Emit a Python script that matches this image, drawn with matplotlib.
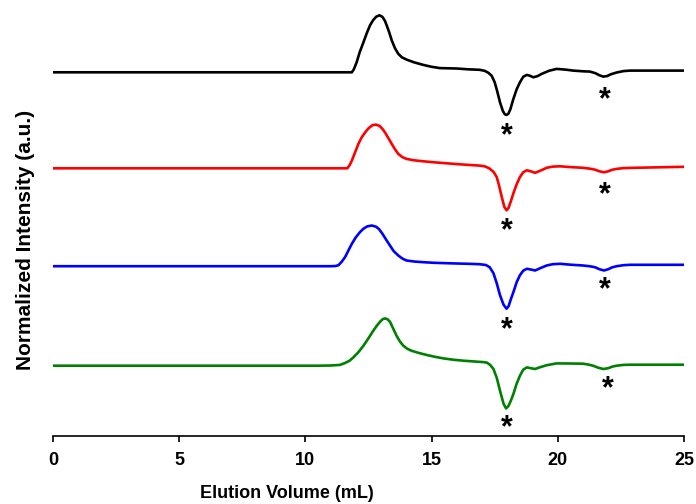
import matplotlib
matplotlib.use('Agg')
import matplotlib.pyplot as plt

# elution volume (mL) / detector response (a.u., relative to each trace baseline)
black_x = [0, 5, 10, 11.5, 11.84, 11.92, 12.03, 12.15, 12.3, 12.43, 12.56, 12.68, 12.8, 12.93, 13.05,
           13.15, 13.22, 13.32, 13.42, 13.55, 13.68, 13.82, 14.01, 14.3, 14.67, 15.0, 15.33, 15.99,
           16.44, 16.9, 17.1, 17.25, 17.38, 17.5, 17.6, 17.71, 17.82, 17.9, 17.97, 18.04, 18.12,
           18.24, 18.37, 18.5, 18.63, 18.77, 18.9, 19.03, 19.2, 19.36, 19.65, 19.95, 20.3, 20.61,
           21.0, 21.28, 21.5, 21.65, 21.8, 21.95, 22.1, 22.33, 22.6, 22.86, 24.0, 25.0]
black_y = [0, 0, 0, 0, 0.0, 0.3, 1.0, 2.0, 3.0, 3.9, 4.7, 5.2, 5.55, 5.7, 5.55,
           5.15, 4.7, 4.0, 3.2, 2.4, 1.85, 1.5, 1.27, 1.0, 0.74, 0.55, 0.42, 0.38,
           0.3, 0.25, 0.15, -0.05, -0.35, -1.0, -1.9, -3.0, -3.85, -4.2, -4.26, -4.15, -3.7,
           -2.66, -1.7, -1.0, -0.45, -0.26, -0.35, -0.5, -0.38, -0.16, 0.15, 0.34, 0.27, 0.17,
           0.1, 0.07, -0.1, -0.3, -0.43, -0.38, -0.2, -0.02, 0.12, 0.17, 0.17, 0.17]

red_x = [0, 5, 10, 11.5, 11.66, 11.75, 11.84, 11.97, 12.1, 12.23, 12.37, 12.5, 12.65, 12.79, 12.93,
         13.05, 13.15, 13.28, 13.42, 13.55, 13.68, 13.84, 14.01, 14.3, 14.67, 15.1, 15.6, 16.0,
         16.46, 16.9, 17.1, 17.28, 17.45, 17.58, 17.68, 17.78, 17.88, 17.97, 18.05, 18.14, 18.24,
         18.37, 18.5, 18.63, 18.77, 18.93, 19.1, 19.3, 19.56, 19.8, 20.09, 20.5, 21.0, 21.25,
         21.47, 21.65, 21.83, 22.0, 22.15, 22.33, 22.6, 22.86, 24.0, 25.0]
red_y = [0, 0, 0, 0, 0.0, 0.3, 0.77, 1.6, 2.44, 3.1, 3.6, 4.0, 4.3, 4.37, 4.25,
         3.95, 3.6, 3.05, 2.44, 1.9, 1.44, 1.12, 0.94, 0.8, 0.7, 0.6, 0.5, 0.42,
         0.34, 0.27, 0.2, 0.0, -0.35, -0.87, -1.8, -2.87, -3.85, -4.2, -3.95, -3.3, -2.5,
         -1.6, -0.87, -0.4, -0.2, -0.3, -0.45, -0.25, 0.05, 0.17, 0.2, 0.12, 0.05, -0.03,
         -0.13, -0.3, -0.4, -0.3, -0.15, -0.06, 0.02, 0.04, 0.1, 0.15]

blue_x = [0, 5, 10, 11.0, 11.2, 11.31, 11.44, 11.57, 11.7, 11.84, 12.0, 12.16, 12.3, 12.45, 12.63,
          12.8, 12.92, 13.05, 13.2, 13.35, 13.5, 13.68, 13.85, 14.01, 14.3, 14.67, 15.1, 15.6,
          16.0, 16.46, 16.9, 17.15, 17.3, 17.45, 17.58, 17.71, 17.85, 17.97, 18.05, 18.14, 18.24,
          18.37, 18.5, 18.63, 18.77, 18.93, 19.1, 19.3, 19.56, 19.8, 20.1, 20.5, 21.0, 21.25,
          21.47, 21.65, 21.83, 22.0, 22.15, 22.33, 22.6, 22.86, 24.0, 25.0]
blue_y = [0, 0, 0, 0, 0.02, 0.1, 0.45, 0.9, 1.55, 2.24, 2.9, 3.4, 3.75, 3.98, 4.07,
          3.95, 3.7, 3.25, 2.65, 2.07, 1.5, 1.07, 0.75, 0.57, 0.47, 0.4, 0.34, 0.3,
          0.27, 0.24, 0.2, 0.12, -0.1, -0.7, -1.7, -2.9, -3.85, -4.25, -4.0, -3.3, -2.6,
          -1.6, -0.9, -0.45, -0.26, -0.33, -0.43, -0.2, 0.07, 0.2, 0.24, 0.15, 0.07, 0.0,
          -0.1, -0.3, -0.43, -0.3, -0.12, 0.0, 0.1, 0.14, 0.14, 0.14]

green_x = [0, 5, 10, 10.5, 11.0, 11.37, 11.57, 11.75, 11.9, 12.1, 12.3, 12.5, 12.69, 12.83, 12.96,
           13.06, 13.15, 13.25, 13.35, 13.48, 13.61, 13.75, 13.88, 14.03, 14.2, 14.5, 14.81, 15.15,
           15.47, 15.85, 16.26, 16.7, 17.05, 17.2, 17.33, 17.45, 17.58, 17.71, 17.85, 17.95, 18.04,
           18.14, 18.24, 18.37, 18.5, 18.63, 18.77, 18.93, 19.1, 19.3, 19.56, 19.95, 20.5, 21.0,
           21.2, 21.4, 21.6, 21.8, 22.0, 22.15, 22.33, 22.6, 22.86, 24.0, 25.0]
green_y = [0, 0, 0, 0, 0.02, 0.08, 0.27, 0.5, 0.83, 1.35, 2.0, 2.75, 3.5, 4.0, 4.4,
           4.65, 4.73, 4.65, 4.4, 3.7, 3.0, 2.4, 2.0, 1.7, 1.5, 1.27, 1.07, 0.88,
           0.73, 0.6, 0.5, 0.42, 0.36, 0.3, 0.05, -0.33, -1.2, -2.5, -3.8, -4.27, -4.05,
           -3.5, -2.83, -1.8, -1.0, -0.4, -0.17, -0.25, -0.33, -0.15, 0.05, 0.23, 0.22, 0.2,
           0.12, 0.0, -0.2, -0.33, -0.25, -0.1, 0.0, 0.08, 0.1, 0.1, 0.1]

# solvent / system peaks marked with asterisks
star_x = [17.97, 21.87, 17.97, 21.87, 17.97, 21.87, 17.97, 21.99]
star_y = [30.0, 33.6, 20.5, 24.1, 10.6, 14.6, 0.8, 4.7]

traces = [(black_x, black_y, 'black', 36.37),
          (red_x, red_y, 'red', 26.77),
          (blue_x, blue_y, 'blue', 16.98),
          (green_x, green_y, 'green', 7.03)]

plt.rcParams['font.family'] = ['Liberation Sans', 'DejaVu Sans']
plt.rcParams['font.weight'] = 'bold'

fig = plt.figure(figsize=(6.96, 5.04), dpi=100)
ax = fig.add_axes([53 / 696, 68 / 504, 631 / 696, 428 / 504])

for xs, ys, col, off in traces:
    ax.plot(xs, [v + off for v in ys], color=col, lw=1.9, solid_joinstyle='round')

for sx, sy in zip(star_x, star_y):
    ax.text(sx, sy, '*', fontsize=22, fontweight='bold', ha='center', va='center')

ax.set_xlim(0, 25)
ax.set_ylim(0, 42.8)
ax.set_xticks([0, 5, 10, 15, 20, 25])
ax.set_yticks([])
for side in ['left', 'top', 'right']:
    ax.spines[side].set_visible(False)
ax.spines['bottom'].set_linewidth(1.2)
ax.tick_params(axis='x', direction='out', length=4.5, width=1.2, pad=7, labelsize=13)
for lab in ax.get_xticklabels():
    lab.set_fontweight('bold')

ax.set_xlabel('Elution Volume (mL)', fontsize=13, fontweight='bold', va='center')
ax.xaxis.set_label_coords(0.37, -0.1355)
ax.set_ylabel('Normalized Intensity (a.u.)', fontsize=15, fontweight='bold', va='center')
ax.yaxis.set_label_coords(-0.043, 0.458)

fig.savefig('out.png', dpi=100)
